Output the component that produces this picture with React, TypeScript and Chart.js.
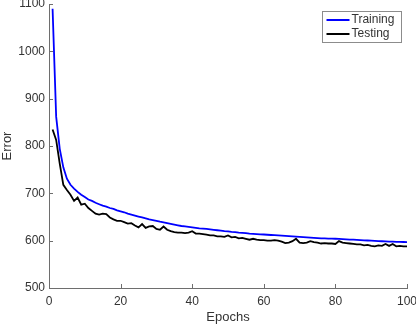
import React, { useEffect, useRef } from "react";
import { Chart, registerables } from "chart.js";

Chart.register(...registerables);

const epochs: number[] = Array.from({ length: 100 }, (_, i) => i + 1);

const training: number[] = [
  1090, 862, 794, 755, 731, 718, 710, 703, 697, 692,
  687, 684, 680, 677, 674, 672, 669, 667, 664, 662,
  660, 657, 655, 653, 651, 649, 647, 645, 643.5, 642,
  640, 638.5, 637, 635.5, 634, 632.5, 631, 630, 629, 628,
  627, 626, 625.5, 625, 624, 623, 622, 621, 620, 619.5,
  618.5, 618, 617, 616.5, 616, 615, 614.5, 614, 613.5, 613,
  612.5, 612, 611.5, 611, 610.5, 610, 609.5, 609, 608.5, 608,
  607.5, 607, 606.5, 606, 605.5, 605, 604.8, 604.5, 604.2, 604,
  603.6, 603.2, 602.8, 602.4, 602, 601.6, 601.2, 600.8, 600.4, 600,
  599.6, 599.2, 598.8, 598.4, 598, 597.8, 597.6, 597.4, 597.2, 597,
];

const testing: number[] = [
  835, 813, 763, 718, 707, 697, 684, 691, 676, 678,
  669, 663, 657, 655, 657, 656, 649, 645, 642, 642,
  639, 636, 637, 632, 628, 635, 627, 630, 631, 625,
  623, 630, 623, 620, 618, 617, 617, 616, 617, 620,
  615, 615, 614, 613, 611, 611, 609, 609, 608, 611,
  607, 608, 605, 606, 604, 602, 604, 602, 601, 601,
  600, 600, 601, 600, 598, 595, 596, 599, 604, 596,
  595, 596, 599, 597, 596, 594, 595, 594, 594, 593,
  599, 596, 595, 594, 593, 592, 592, 590, 591, 589,
  588, 590, 589, 593, 589, 593, 588, 589, 588, 588,
];

const seriesLabels: string[] = ["Training", "Testing"];
const seriesColors: string[] = ["#0000FF", "#000000"];

const FONT = "'Liberation Sans', Arial, Helvetica, sans-serif";
const TEXT = "#333333";
const AXIS = "#6e6e6e";

const innerTicks = {
  id: "innerTicks",
  afterDraw(chart: any) {
    const ctx = chart.ctx;
    const xs = chart.scales.x;
    const ys = chart.scales.y;
    const area = chart.chartArea;
    ctx.save();
    ctx.strokeStyle = AXIS;
    ctx.lineWidth = 1;
    ctx.beginPath();
    xs.ticks.forEach((t: any) => {
      const px = Math.round(xs.getPixelForValue(t.value)) + 0.5;
      ctx.moveTo(px, area.bottom);
      ctx.lineTo(px, area.bottom - 4);
    });
    ys.ticks.forEach((t: any) => {
      const py = Math.round(ys.getPixelForValue(t.value)) + 0.5;
      ctx.moveTo(area.left, py);
      ctx.lineTo(area.left + 4, py);
    });
    ctx.stroke();

    // legend
    const lx = 322.5, ly = 11.5, lw = 79, lh = 31;
    ctx.fillStyle = "#ffffff";
    ctx.fillRect(lx, ly, lw, lh);
    ctx.strokeStyle = "#8c8c8c";
    ctx.lineWidth = 1;
    ctx.strokeRect(lx, ly, lw, lh);
    ctx.font = `12px ${FONT}`;
    ctx.textBaseline = "middle";
    ctx.textAlign = "left";
    chart.data.datasets.forEach((ds: any, i: number) => {
      const cy = ly + 8.5 + i * 14;
      ctx.strokeStyle = ds.borderColor;
      ctx.lineWidth = 2;
      ctx.beginPath();
      ctx.moveTo(lx + 4, cy);
      ctx.lineTo(lx + 27, cy);
      ctx.stroke();
      ctx.fillStyle = TEXT;
      ctx.fillText(ds.label, lx + 29, cy);
    });
    ctx.restore();
  },
};

export default function App() {
  const ref = useRef<HTMLCanvasElement>(null);
  useEffect(() => {
    if (!ref.current) return;
    const chart = new Chart(ref.current, {
      type: "line",
      data: {
        labels: epochs,
        datasets: [
          {
            label: seriesLabels[0],
            data: training.map((v, i) => ({ x: epochs[i], y: v })),
            borderColor: seriesColors[0],
            borderWidth: 1.8,
            pointRadius: 0,
            tension: 0,
          },
          {
            label: seriesLabels[1],
            data: testing.map((v, i) => ({ x: epochs[i], y: v })),
            borderColor: seriesColors[1],
            borderWidth: 1.8,
            pointRadius: 0,
            tension: 0,
          },
        ],
      },
      plugins: [innerTicks],
      options: {
        animation: false,
        responsive: false,
        maintainAspectRatio: false,
        layout: { padding: { top: 4, right: 9, left: 0, bottom: 0 } },
        plugins: {
          legend: { display: false },
          tooltip: { enabled: false },
        },
        scales: {
          x: {
            type: "linear",
            min: 0,
            max: 100,
            ticks: {
              stepSize: 20,
              color: TEXT,
              font: { family: FONT, size: 12 },
              padding: 6,
              maxRotation: 0,
              callback: (v: any) => String(v),
            },
            grid: { display: false, drawTicks: false },
            border: { display: true, color: AXIS, width: 1 },
            title: {
              display: true,
              text: "Epochs",
              color: TEXT,
              font: { family: FONT, size: 13 },
              padding: { top: 2, bottom: 0 },
            },
            afterFit(scale: any) {
              scale.height = 37;
              scale.paddingRight = 0;
              scale.paddingLeft = 0;
            },
          },
          y: {
            type: "linear",
            min: 500,
            max: 1100,
            ticks: {
              stepSize: 100,
              color: TEXT,
              font: { family: FONT, size: 12 },
              padding: 4,
              callback: (v: any) => String(v),
            },
            grid: { display: false, drawTicks: false },
            border: { display: true, color: AXIS, width: 1 },
            title: {
              display: true,
              text: "Error",
              color: TEXT,
              font: { family: FONT, size: 13 },
              padding: { top: 0, bottom: 0 },
            },
            afterFit(scale: any) {
              scale.width = 49;
              scale.paddingTop = 0;
              scale.paddingBottom = 0;
            },
          },
        },
      },
    });
    return () => chart.destroy();
  }, []);
  return (
    <div style={{ position: "fixed", left: 0, top: 0, width: 416, height: 325, background: "#fff" }}>
      <canvas ref={ref} width={416} height={325} style={{ width: 416, height: 325 }} />
    </div>
  );
}
